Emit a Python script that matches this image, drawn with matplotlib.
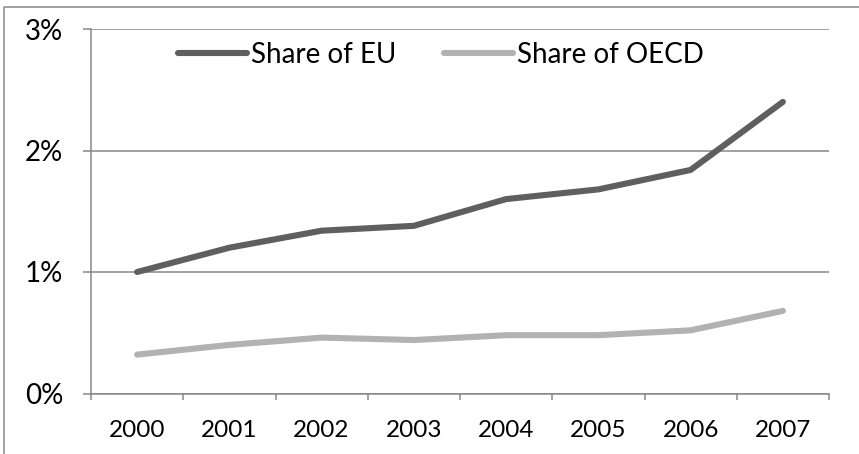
import matplotlib
matplotlib.use("Agg")
import matplotlib.pyplot as plt
from matplotlib.lines import Line2D
from matplotlib.ticker import FixedLocator

years = ["2000", "2001", "2002", "2003", "2004", "2005", "2006", "2007"]
share_eu = [1.00, 1.20, 1.34, 1.38, 1.60, 1.68, 1.84, 2.40]
share_oecd = [0.32, 0.40, 0.46, 0.44, 0.48, 0.48, 0.52, 0.68]
y_ticks = [0, 1, 2, 3]
y_labels = ["0%", "1%", "2%", "3%"]

plt.rcParams['font.family'] = ['Lato', 'DejaVu Sans']

fig = plt.figure(figsize=(8.59, 4.54), dpi=100)
ax = fig.add_axes([91/859, 1 - 393.5/454, 738/859, 364.5/454])

grey = "#878787"
x = list(range(len(years)))
ax.plot(x, share_eu, color="#5f5f5f", lw=4.4, solid_capstyle="round",
        solid_joinstyle="round", label="Share of EU")
ax.plot(x, share_oecd, color="#b2b2b2", lw=4.4, solid_capstyle="round",
        solid_joinstyle="round", label="Share of OECD")

ax.set_xlim(-0.5, len(years) - 0.5)
ax.set_ylim(0, 3)

# category axis: ticks on the boundaries, labels in the middle
ax.xaxis.set_major_locator(FixedLocator([i - 0.5 for i in range(len(years) + 1)]))
ax.xaxis.set_minor_locator(FixedLocator(x))
ax.set_xticklabels([])
ax.set_xticklabels(years, minor=True)
ax.tick_params(axis="x", which="major", direction="out", length=4.5, width=1.1, color=grey)
ax.tick_params(axis="x", which="minor", length=0, pad=19, labelsize=17.5)

ax.set_yticks(y_ticks)
ax.set_yticklabels(y_labels)
ax.tick_params(axis="y", direction="out", length=6, width=1.1, color=grey, pad=14, labelsize=20)

ax.grid(axis="y", color=grey, lw=1.1)
ax.set_axisbelow(True)
for s in ["top", "right"]:
    ax.spines[s].set_visible(False)
for s in ["left", "bottom"]:
    ax.spines[s].set_color(grey)
    ax.spines[s].set_linewidth(1.1)

ax.legend(loc="center", bbox_to_anchor=(0.474, 0.929), ncol=2, frameon=False,
          fontsize=20, handlelength=2.5, handletextpad=0.15, columnspacing=1.7)

# chart area border (partly cropped in the original)
fig.add_artist(Line2D([4/859, 4/859, 1], [0, 1 - 7/454, 1 - 7/454],
                      color=grey, lw=1.1, transform=fig.transFigure))

fig.savefig("out.png", dpi=100)
